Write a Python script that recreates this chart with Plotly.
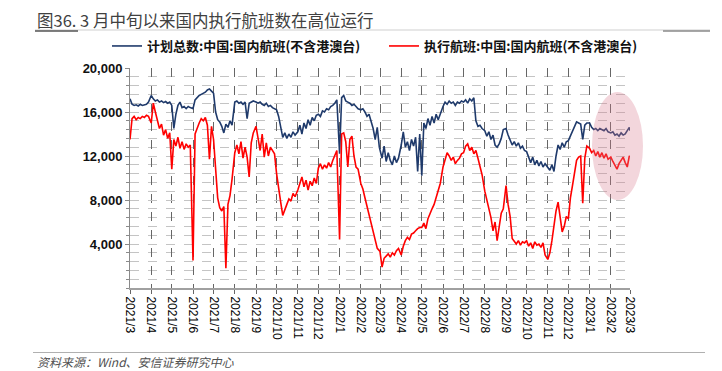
import plotly.graph_objects as go
import pandas as pd

# ---------------- data ----------------
SAMPLE_DAYS = [1, 4, 7, 10, 13, 16, 19, 22, 25, 28]
month_starts = pd.date_range("2021-03-01", "2023-02-01", freq="MS")
end_date = pd.Timestamp("2023-03-01")

plan_2021 = [
    17200, 16700, 16600, 16650, 16550, 16700, 16600, 16650, 16700, 16900,  # Mar
    17500, 17200, 17000, 17100, 16900, 17000, 16850, 16950, 16800, 16900,  # Apr
    16600, 14500, 15800, 16600, 16900, 16400, 16500, 16300, 16500, 16400,  # May
    16300, 17100, 17300, 17500, 17600, 17700, 17800, 18000, 18100, 17900,  # Jun
    17700, 16000, 15300, 15100, 14700, 14100, 14900, 14600, 15200, 14800,  # Jul
    16900, 17000, 16800, 16900, 16700, 16900, 15400, 16800, 16900, 17000,  # Aug
    16900, 16800, 16900, 16700, 16600, 16800, 16500, 16600, 16400, 16300,  # Sep
    16200, 15600, 14600, 13700, 14100, 13600, 14000, 13700, 14200, 13900,  # Oct
    14200, 14800, 14000, 15000, 14500, 15300, 14800, 15500, 15200, 15700,  # Nov
    15800, 15600, 16100, 16000, 16300, 16200, 16500, 16600, 16800, 17100,  # Dec
]
plan_2022 = [
    12200, 17300, 17500, 17000, 16900, 16800, 16600, 16700, 16500, 16300,  # Jan
    16200, 16300, 16000, 15600, 15800, 15200, 14500, 13500, 14600, 12800,  # Feb
    12500, 11800, 12900, 11500, 12300, 11600, 11200, 12000, 11400, 11800,  # Mar
    13000, 14200, 12800, 13300, 12500, 13500, 12900, 13700, 10600, 14000,  # Apr
    10200, 15000, 14500, 15400, 14800, 15600, 15000, 15800, 15300, 15900,  # May
    16500, 16900, 16700, 17000, 16800, 16900, 16600, 16900, 16800, 17000,  # Jun
    16900, 17100, 16800, 17200, 17000, 17300, 15200, 14700, 14800, 14500,  # Jul
    14300, 13800, 14200, 13500, 13900, 13000, 12800, 13100, 13600, 14400,  # Aug
    14500, 13900, 13500, 13000, 13300, 12900, 13200, 12700, 12900, 12500,  # Sep
    12400, 11800, 11400, 11900, 11200, 11600, 11100, 11500, 11000, 11300,  # Oct
    11000, 10700, 11200, 10600, 12000, 13000, 12600, 13200, 12800, 13300,  # Nov
    13400, 13800, 14300, 14700, 15100, 15000, 14900, 13500, 14800, 15000,  # Dec
]
plan_2023 = [
    15000, 14600, 14400, 14500, 14300, 14500, 14400, 14300, 14500, 14200,  # Jan
    14100, 14200, 13900, 14000, 13800, 14100, 13900, 14000, 14300, 14600,  # Feb
    14300,                                                                 # Mar 1
]

actual_2021 = [
    13500, 15400, 15600, 15300, 15500, 15400, 15600, 15500, 15700, 15600,  # Mar
    15000, 16800, 16000, 15200, 14500, 14900, 13900, 14400, 13600, 14100,  # Apr
    10800, 13500, 12900, 13700, 12700, 13300, 12600, 13100, 12800, 13000,  # May
    2500, 14000, 14600, 15000, 15400, 15200, 15500, 14800, 11700, 14700,   # Jun
    13500, 10800, 8200, 7300, 7000, 7400, 1800, 7600, 8400, 9900,          # Jul
    12300, 13000, 12200, 13300, 11800, 12800, 11900, 10100, 13200, 14100,  # Aug
    14700, 13600, 12500, 14000, 11900, 13200, 12000, 12800, 12500, 12200,  # Sep
    10400, 9300, 7800, 6600, 7200, 7600, 8100, 7900, 8600, 8300,           # Oct
    8900, 9600, 10100, 9200, 9800, 8900, 9700, 9300, 10000, 9500,          # Nov
    10900, 11300, 10800, 11200, 10900, 11400, 11000, 11600, 12100, 12500,  # Dec
]
actual_2022 = [
    4400, 14000, 14100, 13300, 11000, 13500, 13800, 12000, 11000, 10800,   # Jan
    9500, 9000, 8200, 7400, 6600, 5800, 4900, 4300, 3600, 3400,            # Feb
    3300, 1900, 2700, 2900, 3100, 2800, 3200, 3000, 3400, 3600,            # Mar
    3000, 3800, 4300, 4600, 4400, 4900, 5000, 5200, 5400, 5500,            # Apr
    5500, 5900, 5400, 6300, 6800, 7200, 7600, 8300, 8900, 9500,            # May
    11000, 11800, 12300, 12000, 11600, 11900, 11300, 11600, 11800, 12200,  # Jun
    12300, 12900, 13100, 12500, 12800, 12200, 12500, 11800, 11000, 10300,  # Jul
    8800, 8000, 7200, 6400, 5200, 6000, 4300, 5600, 6800, 7200,            # Aug
    9300, 7600, 6500, 4500, 4200, 4000, 4300, 3900, 4200, 4100,            # Sep
    4300, 3800, 4100, 3600, 4200, 3900, 4000, 3700, 4100, 3000,            # Oct
    2600, 3200, 4300, 5600, 7000, 7800, 6600, 5100, 5600, 6500,            # Nov
    6300, 8200, 9300, 10500, 11600, 11900, 12000, 7700, 11800, 12900,      # Dec
]
actual_2023 = [
    12700, 12300, 12500, 12000, 12400, 11900, 12300, 11800, 12200, 11700,  # Jan
    11900, 11500, 11100, 10800, 11300, 11600, 11900, 11400, 11000, 12000,  # Feb
    11900,                                                                 # Mar 1
]

tick_labels = ["2021/3", "2021/4", "2021/5", "2021/6", "2021/7", "2021/8", "2021/9",
               "2021/10", "2021/11", "2021/12", "2022/1", "2022/2", "2022/3", "2022/4",
               "2022/5", "2022/6", "2022/7", "2022/8", "2022/9", "2022/10", "2022/11",
               "2022/12", "2023/1", "2023/2", "2023/3"]
y_tick_values = [4000, 8000, 12000, 16000, 20000]
y_tick_labels = ["4,000", "8,000", "12,000", "16,000", "20,000"]

name_plan = "计划总数:中国:国内航班(不含港澳台)"
name_actual = "执行航班:中国:国内航班(不含港澳台)"
title_text = "图36. 3 月中旬以来国内执行航班数在高位运行"
source_text = "资料来源：Wind、安信证券研究中心"

# ---------------- build ----------------
dates = [m + pd.Timedelta(days=d - 1) for m in month_starts for d in SAMPLE_DAYS] + [end_date]
plan = plan_2021 + plan_2022 + plan_2023
actual = actual_2021 + actual_2022 + actual_2023
tick_dates = list(pd.date_range("2021-03-01", "2023-03-01", freq="MS"))

# The page body adds an 8px margin, so the figure is laid out 8px smaller and
# all page-pixel positions are shifted by that offset.
OFF = 8
PAGE_W, PAGE_H = 722, 371
W, H = PAGE_W - OFF, PAGE_H - OFF
L, R, T, B = 130 - OFF, 630 - OFF, 68 - OFF, 288 - OFF


def px(x):
    return (x - OFF - L) / (R - L)


def py(y):
    return (B - (y - OFF)) / (B - T)


fig = go.Figure()
fig.add_trace(go.Scatter(x=dates, y=plan, mode="lines", name=name_plan,
                         line=dict(color="#1f3a6b", width=1.6), legend="legend"))
fig.add_trace(go.Scatter(x=dates, y=actual, mode="lines", name=name_actual,
                         line=dict(color="#ff0000", width=1.6), legend="legend2"))

cjk = "Noto Sans CJK SC"
legend_font = dict(family=cjk, size=13, color="#111111", weight="bold")

fig.update_layout(
    width=W, height=H,
    margin=dict(l=L, r=W - R, t=T, b=H - B, pad=0),
    plot_bgcolor="white", paper_bgcolor="white",
    showlegend=True,
    legend=dict(x=px(107), y=py(46), xanchor="left", yanchor="middle",
                orientation="h", font=legend_font, bgcolor="rgba(0,0,0,0)"),
    legend2=dict(x=px(384), y=py(46), xanchor="left", yanchor="middle",
                 orientation="h", font=legend_font, bgcolor="rgba(0,0,0,0)"),
    xaxis=dict(type="date", range=["2021-03-01", "2023-03-01"],
               tickmode="array", tickvals=tick_dates, ticktext=tick_labels,
               tickangle=90, tickfont=dict(family="Arial", size=12, color="#000000"),
               showgrid=True, gridcolor="#666666", griddash="dash", gridwidth=1,
               showline=True, linecolor="#a0a0a0", linewidth=2,
               ticks="outside", ticklen=4, tickcolor="#666666", zeroline=False),
    yaxis=dict(range=[0, 20000], tickmode="array", tickvals=y_tick_values,
               ticktext=y_tick_labels,
               tickfont=dict(family="Arial", size=13, color="#111111", weight="bold"),
               showgrid=True, gridcolor="#c4c4c4", griddash="dash", gridwidth=1,
               showline=True, linecolor="#8a8a8a", linewidth=1,
               ticks="outside", ticklen=4, tickcolor="#8a8a8a", zeroline=False,
               minor=dict(tick0=0, dtick=800, showgrid=True, gridcolor="#c4c4c4",
                          griddash="dash", gridwidth=1, ticks="outside", ticklen=3,
                          tickcolor="#8a8a8a")),
)

fig.add_annotation(text=title_text, xref="paper", yref="paper", x=px(35), y=py(19.5),
                   xanchor="left", yanchor="middle", showarrow=False,
                   font=dict(family=cjk, size=16.5, color="#404040"))
fig.add_annotation(text=source_text, xref="paper", yref="paper", x=px(35), y=py(361),
                   xanchor="left", yanchor="middle", showarrow=False,
                   font=dict(family=cjk, size=12, color="#505050", style="italic"))

shapes = [
    dict(type="line", xref="paper", yref="paper", x0=px(35), x1=px(710), y0=py(30), y1=py(30),
         line=dict(color="#cfcfcf", width=1)),
    dict(type="line", xref="paper", yref="paper", x0=px(35), x1=px(78), y0=py(31), y1=py(31),
         line=dict(color="#555555", width=1.5)),
    dict(type="line", xref="paper", yref="paper", x0=px(663), x1=px(710), y0=py(31), y1=py(31),
         line=dict(color="#8a8a8a", width=1.5)),
    dict(type="line", xref="paper", yref="paper", x0=px(33), x1=px(705), y0=py(352.5), y1=py(352.5),
         line=dict(color="#b0b0b0", width=1)),
    dict(type="circle", xref="paper", yref="paper", x0=px(592), x1=px(643), y0=py(200), y1=py(92),
         fillcolor="rgba(215,118,138,0.3)", line=dict(width=0), layer="above"),
]
fig.update_layout(shapes=shapes)

fig.write_html("out.html")
